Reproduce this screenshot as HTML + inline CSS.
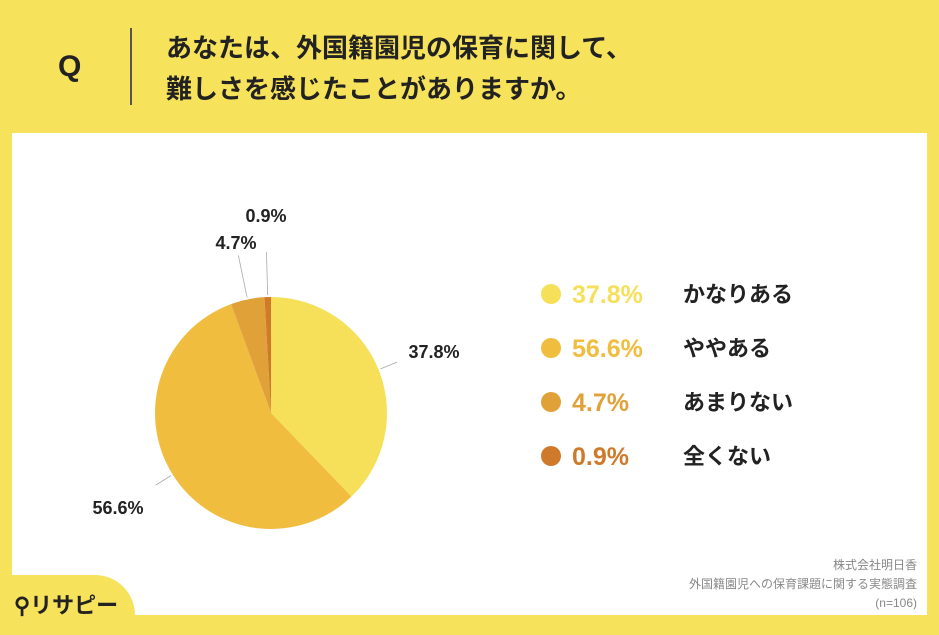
<!DOCTYPE html>
<html><head><meta charset="utf-8"><style>
body{margin:0;width:939px;height:625px;background:#f7e25b;font-family:"Liberation Sans","Noto Sans CJK JP",sans-serif;position:relative;overflow:hidden}
.abs{position:absolute}
</style></head><body>
<div class="abs" style="left:58px;top:50px;font-size:30px;font-weight:bold;color:#222">Q</div>
<div class="abs" style="left:130px;top:28px;width:1.5px;height:77px;background:#555"></div>
<div class="abs" style="left:166px;top:28px;font-size:26px;font-weight:bold;line-height:41px;color:#222">あなたは、外国籍園児の保育に関して、<br>難しさを感じたことがありますか。</div>
<div class="abs" style="left:12px;top:133px;width:915px;height:482px;background:#fff"></div>
<div class="abs" style="left:0;top:575px;width:135px;height:60px;background:#f7e25b;border-top-right-radius:40px"></div>
<div class="abs" style="left:14px;top:588px;font-size:22px;font-weight:bold;color:#222">⚲リサピー</div>
<div class="abs" style="right:22px;top:556px;font-size:12px;line-height:19px;color:#888;text-align:right">株式会社明日香<br>外国籍園児への保育課題に関する実態調査<br>(n=106)</div>
<svg class="abs" style="left:0;top:0" width="939" height="625">
<g id="pie"></g><g id="legend"></g>
</svg>
<script>
const categories=["かなりある","ややある","あまりない","全くない"];
const values=[37.8,56.6,4.7,0.9];
const labels=["37.8%","56.6%","4.7%","0.9%"];
const colors=["#f6e05a","#f0bd3e","#e0a238","#cf7a2b"];
const NS="http://www.w3.org/2000/svg";
const cx=271,cy=413,r=116;
const pie=document.getElementById('pie'),leg=document.getElementById('legend');
const total=values.reduce((a,b)=>a+b,0);
function pt(a,rr){return [cx+rr*Math.sin(a),cy-rr*Math.cos(a)];}
let a0=0;
const labelPos=[[434,358,'middle'],[118,514,'middle'],[236,249,'middle'],[266,222,'middle']];
values.forEach((v,i)=>{
  const a1=a0+v/total*2*Math.PI;
  const [x0,y0]=pt(a0,r),[x1,y1]=pt(a1,r);
  const p=document.createElementNS(NS,'path');
  p.setAttribute('d',`M${cx},${cy}L${x0},${y0}A${r},${r} 0 ${a1-a0>Math.PI?1:0} 1 ${x1},${y1}Z`);
  p.setAttribute('fill',colors[i]);
  
  
  pie.appendChild(p);
  const mid=(a0+a1)/2;
  const [lx0,ly0]=pt(mid,r+2),[lx1,ly1]=pt(mid,r+(i>=2?45:20));
  const ln=document.createElementNS(NS,'line');
  ln.setAttribute('x1',lx0);ln.setAttribute('y1',ly0);ln.setAttribute('x2',lx1);ln.setAttribute('y2',ly1);
  ln.setAttribute('stroke','#aaa');ln.setAttribute('stroke-width','0.8');
  
  
  pie.appendChild(ln);
  const t=document.createElementNS(NS,'text');
  t.setAttribute('x',labelPos[i][0]);t.setAttribute('y',labelPos[i][1]);
  t.setAttribute('text-anchor',labelPos[i][2]);
  t.setAttribute('font-size','18');t.setAttribute('fill','#222');t.setAttribute('font-weight','bold');
  t.textContent=labels[i];
  
  
  pie.appendChild(t);
  const y=294+i*54;
  const c=document.createElementNS(NS,'circle');
  c.setAttribute('cx',551);c.setAttribute('cy',y);c.setAttribute('r',10);c.setAttribute('fill',colors[i]);
  
  
  leg.appendChild(c);
  const tp=document.createElementNS(NS,'text');
  tp.setAttribute('x',572);tp.setAttribute('y',y+9);tp.setAttribute('font-size','25');tp.setAttribute('font-weight','bold');tp.setAttribute('fill',colors[i]);
  tp.textContent=labels[i];
  
  
  leg.appendChild(tp);
  const tl=document.createElementNS(NS,'text');
  tl.setAttribute('x',683);tl.setAttribute('y',y+8);tl.setAttribute('font-size','22');tl.setAttribute('font-weight','bold');tl.setAttribute('fill','#222');
  tl.textContent=categories[i];
  
  
  leg.appendChild(tl);
  a0=a1;
});
</script>
</body></html>
